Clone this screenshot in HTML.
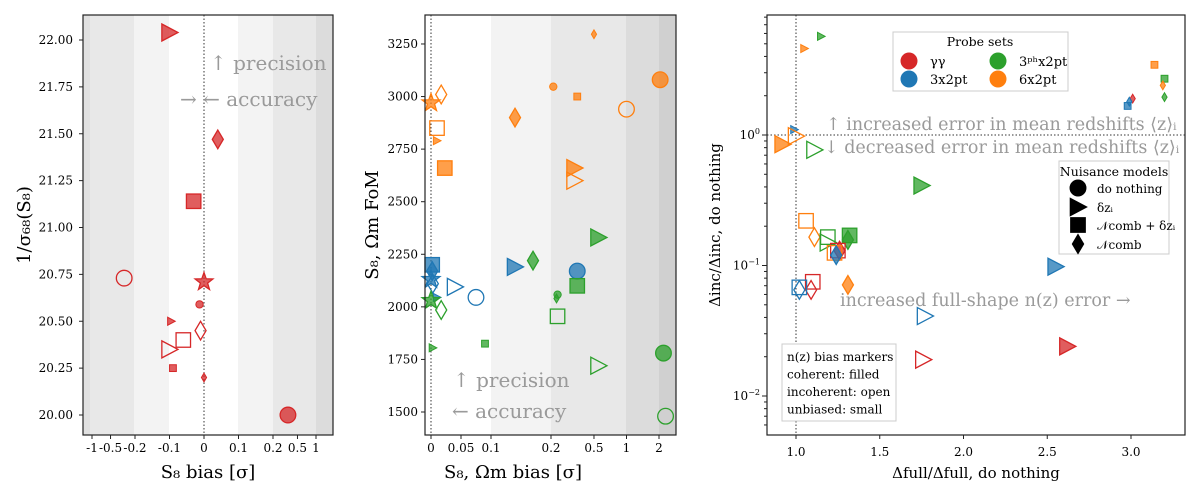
<!DOCTYPE html>
<html><head><meta charset="utf-8"><style>
body{margin:0;background:#fff;}
svg{display:block;font-family:"DejaVu Serif","Liberation Serif",serif;}
</style></head><body>
<svg id="fig" width="1200" height="500" viewBox="0 0 1200 500" xmlns="http://www.w3.org/2000/svg"></svg>
<script>
// ---------- Panel 1 data ----------
const p1Bias = [-0.1, 0.04, -0.03, -0.3, 0, -0.013, -0.095, -0.01, -0.06, -0.1, -0.09, 0, 0.35];
const p1Prec = [22.04, 21.47, 21.14, 20.73, 20.71, 20.59, 20.50, 20.45, 20.40, 20.35, 20.25, 20.20, 20.00];
const p1Shape = ['>','d','s','o','*','o','>','d','s','>','s','d','o'];
const p1Style = ['f','f','f','o','f','s','s','o','o','o','s','s','f'];
const p1XTicks = [-1,-0.5,-0.2,-0.1,0,0.1,0.2,0.5,1];
const p1YTicks = [20.00,20.25,20.50,20.75,21.00,21.25,21.50,21.75,22.00];
// ---------- Panel 2 data ----------
const p2Bias = [0.5,2.05,0.21,0.35,1.0,0.017,0,0.01,0.01,0.023,0.14,0.33,0.33,
  0.002,0.002,0,0.003,0.04,0.075,0.01,0.14,0.35,
  0.55,0.17,0.35,0.23,0.225,0.23,0,0.017,0.09,0.003,2.2,0.55,2.3];
const p2FoM = [3296,3080,3047,3000,2940,3010,2970,2850,2790,2660,2900,2660,2600,
  2200,2170,2130,2110,2095,2045,2045,2190,2170,
  2330,2220,2100,2058,2040,1955,2030,1985,1825,1805,1780,1720,1480];
const p2Probe = ['6','6','6','6','6','6','6','6','6','6','6','6','6',
  '3','3','3','3','3','3','3','3','3',
  'p','p','p','p','p','p','p','p','p','p','p','p','p'];
const p2Shape = ['d','o','o','s','o','d','*','s','>','s','d','>','>',
  's','d','*','d','>','o','>','>','o',
  '>','d','s','o','d','s','*','d','s','>','o','>','o'];
const p2Style = ['s','f','s','s','o','o','f','o','s','f','f','f','o',
  'f','f','f','o','o','o','s','f','f',
  'f','f','f','s','s','o','f','o','s','s','f','o','o'];
const p2XTicks = [0,0.05,0.1,0.2,0.5,1,2];
const p2YTicks = [1500,1750,2000,2250,2500,2750,3000,3250];
// ---------- Panel 3 data ----------
const p3Full = [1.15,1.05,3.14,3.20,3.19,3.20,3.01,2.98,2.99,0.99,0.92,1.0,1.11,1.75,1.06,1.11,1.19,1.19,1.32,1.31,1.26,1.25,1.23,1.24,2.55,1.31,1.10,1.09,1.02,1.02,1.77,1.76,2.62];
const p3Inc = [5.7,4.6,3.45,2.7,2.4,1.95,1.9,1.67,1.8,1.1,0.85,0.98,0.77,0.41,0.22,0.165,0.165,0.15,0.17,0.157,0.13,0.13,0.125,0.12,0.098,0.071,0.075,0.065,0.068,0.065,0.041,0.019,0.024];
const p3Probe = ['p','6','6','p','6','p','g','3','3','3','6','6','p','p','6','6','p','p','p','p','g','g','6','3','3','6','g','g','3','3','3','g','g'];
const p3Shape = ['>','>','s','s','d','d','d','s','d','>','>','>','>','>','s','d','s','>','s','d','d','s','s','d','>','d','s','d','s','d','>','>','>'];
const p3Style = ['s','s','s','s','s','s','s','s','s','s','f','o','o','f','o','o','o','o','f','f','f','o','o','f','f','f','o','o','o','o','o','o','f'];
const p3XTicks = [1.0,1.5,2.0,2.5,3.0];
const p3YTickExp = [0,-1,-2];

const svg = document.getElementById('fig');
const NS = 'http://www.w3.org/2000/svg';
const COL = {g:'#d62728','3':'#1f77b4',p:'#2ca02c','6':'#ff7f0e',r:'#d62728'};
function el(tag, attrs, parent){const e=document.createElementNS(NS,tag);for(const k in attrs)e.setAttribute(k,attrs[k]);(parent||svg).appendChild(e);return e;}
function txt(x,y,s,size,anchor,fill,parent){const t=el('text',{x:x,y:y,'font-size':size,'text-anchor':anchor||'middle',fill:fill||'#000'},parent);t.textContent=s;return t;}

const Y1 = v => 415 - (v-20)*187.5;
function X1(v){const a=Math.abs(v),s=Math.sign(v);let d=a<=0.2?a*345:69+Math.log10(a/0.2)*61.5;return 204+s*d;}
const Y2 = v => 412 - (v-1500)*0.2103;
function X2(v){return v<=0.2?431+v*600:551+Math.log10(v/0.2)*108;}
const X3 = v => 796 + (v-1)*167.5;
const Y3 = v => 135 - Math.log10(v)*130.5;

function marker(g,x,y,shape,style,color){
  const r = style==='s'?4:8.5;
  const filled = style!=='o';
  const a = {fill: filled?color:'none','fill-opacity':filled?0.75:1,stroke:color,'stroke-width':style==='s'?1:1.3};
  let e;
  if(shape==='o') e=el('circle',Object.assign({cx:x,cy:y,r:r*0.92},a),g);
  else if(shape==='s') e=el('rect',Object.assign({x:x-r*0.85,y:y-r*0.85,width:r*1.7,height:r*1.7},a),g);
  else if(shape==='>') e=el('polygon',Object.assign({points:`${x-r*0.9},${y-r} ${x+r},${y} ${x-r*0.9},${y+r}`},a),g);
  else if(shape==='d') e=el('polygon',Object.assign({points:`${x},${y-r*1.1} ${x+r*0.65},${y} ${x},${y+r*1.1} ${x-r*0.65},${y}`},a),g);
  else { let p=[];for(let i=0;i<10;i++){const rr=i%2?r*0.45:r*1.1,an=-Math.PI/2+i*Math.PI/5;p.push((x+rr*Math.cos(an)).toFixed(1)+','+(y+rr*Math.sin(an)).toFixed(1));} e=el('polygon',Object.assign({points:p.join(' ')},a),g);}
  return e;
}

// ===== Panel 1 =====
const g1 = el('g',{});


[[83,90,'#e0e0e0'],[90,134,'#e8e8e8'],[134,169,'#f3f3f3'],[238,273,'#f3f3f3'],[273,316,'#e8e8e8'],[316,333,'#dcdcdc']].forEach(b=>el('rect',{x:b[0],y:15,width:b[1]-b[0],height:420,fill:b[2]},g1));
el('line',{x1:X1(0),x2:X1(0),y1:15,y2:435,stroke:'#333','stroke-dasharray':'1.5,2','stroke-width':1},g1);
txt(210,70,'↑  precision',20,'start','#9a9a9a',g1);
txt(180,106,'→   ←  accuracy',20,'start','#9a9a9a',g1);
p1Bias.forEach((b,i)=>{const m=marker(g1,X1(b),Y1(p1Prec[i]),p1Shape[i],p1Style[i],COL.r);

});
el('rect',{x:83,y:15,width:250,height:420,fill:'none',stroke:'#222','stroke-width':1.2},g1);
p1YTicks.forEach(v=>{el('line',{x1:79,x2:83,y1:Y1(v),y2:Y1(v),stroke:'#222'},g1);txt(73,Y1(v)+4,v.toFixed(2),12,'end','#000',g1);});
p1XTicks.forEach(v=>{el('line',{x1:X1(v),x2:X1(v),y1:435,y2:439,stroke:'#222'},g1);txt(X1(v),452,String(v),12,'middle','#000',g1);});
txt(208,478,'S₈ bias [σ]',18,'middle','#000',g1);
const yl1=txt(30,225,'1/σ₆₈(S₈)',18,'middle','#000',g1);yl1.setAttribute('transform','rotate(-90 30 225)');

// ===== Panel 2 =====
const g2 = el('g',{});


[[491,551,'#f3f3f3'],[551,626,'#e8e8e8'],[626,659,'#dcdcdc'],[659,676,'#d0d0d0']].forEach(b=>el('rect',{x:b[0],y:15,width:b[1]-b[0],height:420,fill:b[2]},g2));
el('line',{x1:X2(0),x2:X2(0),y1:15,y2:435,stroke:'#333','stroke-dasharray':'1.5,2'},g2);
txt(453,387,'↑  precision',20,'start','#9a9a9a',g2);
txt(452,418,'←  accuracy',20,'start','#9a9a9a',g2);
const pc={'6':'#ff7f0e','3':'#1f77b4','p':'#2ca02c'};
p2Bias.forEach((b,i)=>{const m=marker(g2,X2(b),Y2(p2FoM[i]),p2Shape[i],p2Style[i],pc[p2Probe[i]]);

});
el('rect',{x:425,y:15,width:251,height:420,fill:'none',stroke:'#222','stroke-width':1.2},g2);
p2YTicks.forEach(v=>{el('line',{x1:421,x2:425,y1:Y2(v),y2:Y2(v),stroke:'#222'},g2);txt(418,Y2(v)+4,String(v),12,'end','#000',g2);});
p2XTicks.forEach(v=>{el('line',{x1:X2(v),x2:X2(v),y1:435,y2:439,stroke:'#222'},g2);txt(X2(v),452,String(v),12,'middle','#000',g2);});
txt(513,478,'S₈, Ωm bias [σ]',18,'middle','#000',g2);
const yl2=txt(378,225,'S₈, Ωm FoM',18,'middle','#000',g2);yl2.setAttribute('transform','rotate(-90 378 225)');

// ===== Panel 3 =====
const g3 = el('g',{});


el('line',{x1:X3(1),x2:X3(1),y1:15,y2:435,stroke:'#333','stroke-dasharray':'1.5,2'},g3);
el('line',{x1:767,x2:1185,y1:Y3(1),y2:Y3(1),stroke:'#333','stroke-dasharray':'1.5,2'},g3);
txt(826,130,'↑  increased error in mean redshifts ⟨z⟩ᵢ',17.5,'start','#9a9a9a',g3);
txt(824,153,'↓  decreased error in mean redshifts ⟨z⟩ᵢ',17.5,'start','#9a9a9a',g3);
txt(840,306,'increased full-shape n(z) error →',17.5,'start','#9a9a9a',g3);
p3Full.forEach((f,i)=>{const m=marker(g3,X3(f),Y3(p3Inc[i]),p3Shape[i],p3Style[i],COL[p3Probe[i]]);

});
el('rect',{x:767,y:15,width:418,height:420,fill:'none',stroke:'#222','stroke-width':1.2},g3);
p3XTicks.forEach(v=>{el('line',{x1:X3(v),x2:X3(v),y1:435,y2:439,stroke:'#222'},g3);txt(X3(v),456,v.toFixed(1),12,'middle','#000',g3);});
p3YTickExp.forEach(e=>{const y=Y3(Math.pow(10,e));el('line',{x1:762,x2:767,y1:y,y2:y,stroke:'#222'},g3);const t=txt(760,y+4,'10',12,'end','#000',g3);const s=el('tspan',{dy:-5,'font-size':8},t);s.textContent=String(e).replace('-','−');});
for(let e=-3;e<1;e++)for(let k=2;k<10;k++){const y=Y3(k*Math.pow(10,e));if(y>15&&y<435)el('line',{x1:764,x2:767,y1:y,y2:y,stroke:'#222'},g3);}
txt(976,478,'Δfull/Δfull, do nothing',15,'middle','#000',g3);
const yl3=txt(720,225,'Δinc/Δinc, do nothing',15,'middle','#000',g3);yl3.setAttribute('transform','rotate(-90 720 225)');

// legends
const lg1=el('g',{});


el('rect',{x:893,y:32,width:175,height:59,fill:'#fff',stroke:'#ccc'},lg1);
txt(980,46,'Probe sets',12.5,'middle','#000',lg1);
[[909,61,'#d62728','γγ'],[909,79,'#1f77b4','3x2pt'],[998,61,'#2ca02c','3ᵖʰx2pt'],[998,79,'#ff7f0e','6x2pt']].forEach(r=>{el('circle',{cx:r[0],cy:r[1],r:8.5,fill:r[2]},lg1);txt(r[0]+21,r[1]+5,r[3],13,'start','#000',lg1);});
const lg2=el('g',{});


el('rect',{x:1059,y:161,width:110,height:93,fill:'#fff',stroke:'#ccc'},lg2);
txt(1114,176,'Nuisance models',12.5,'middle','#000',lg2);
[['o',188,'do nothing'],['>',207,'δzᵢ'],['s',225,'𝒩comb + δzᵢ'],['d',244,'𝒩comb']].forEach(r=>{const m=marker(lg2,1078,r[1],r[0],'f','#000');m.setAttribute('fill-opacity',1);txt(1097,r[1]+5,r[2],12,'start','#000',lg2);});
const lg3=el('g',{});


el('rect',{x:782,y:344,width:114,height:77,fill:'#fff',stroke:'#ccc'},lg3);
['n(z) bias markers','coherent: filled','incoherent: open','unbiased: small'].forEach((s,i)=>txt(787,361+i*17.5,s,12,'start','#000',lg3));
</script>
</body></html>
